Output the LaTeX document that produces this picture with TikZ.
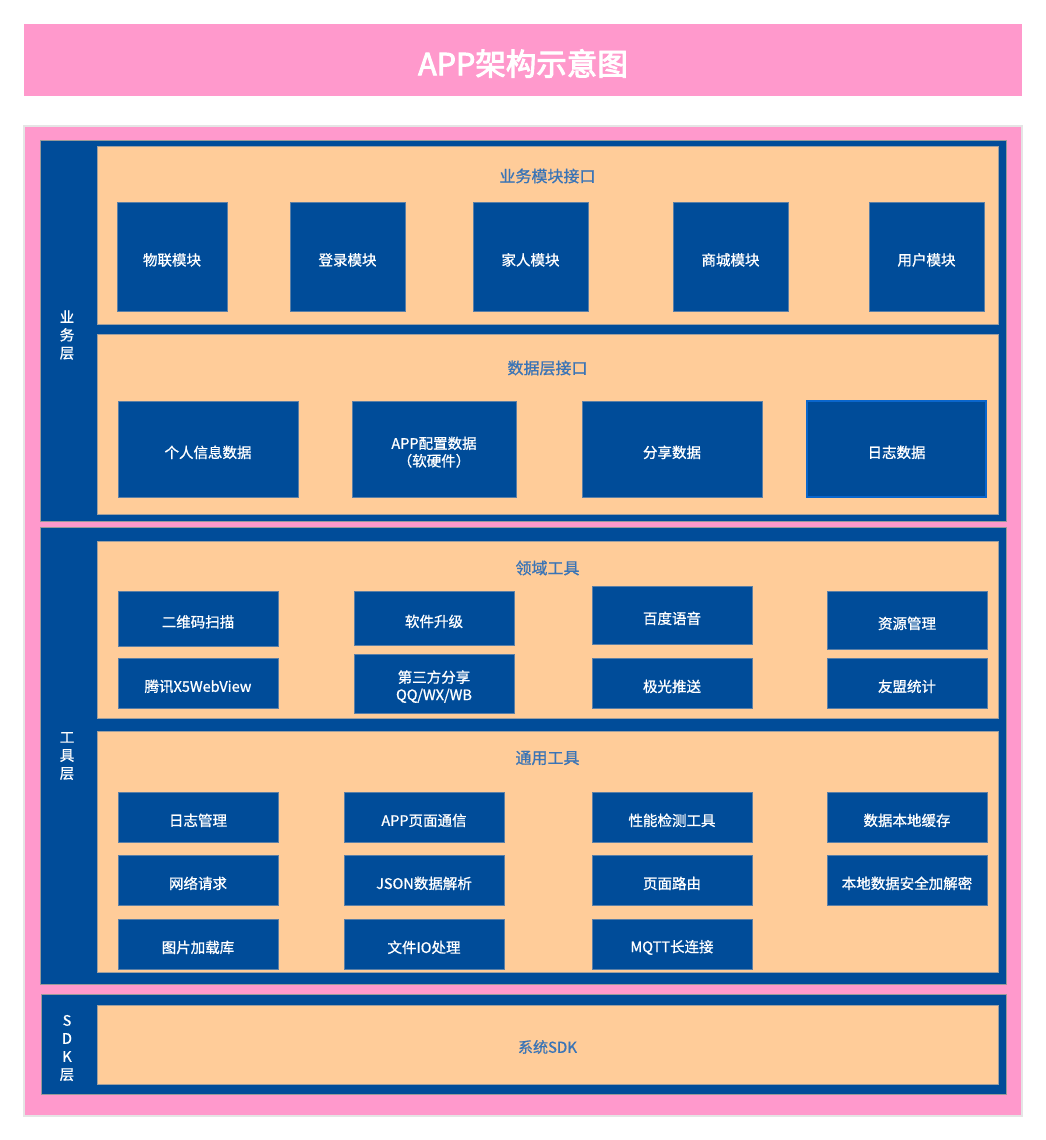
\documentclass[tikz,border=0pt]{standalone}
\usepackage{fontspec}
\newfontfamily\cjk{Noto Sans CJK SC}[FakeBold=0.9]
\newfontfamily\cjkhead{Noto Sans CJK SC}[FakeBold=3]
\definecolor{deepblue}{HTML}{004C99}
\definecolor{edgeblue}{HTML}{5B7FA6}
\definecolor{peach}{HTML}{FFCC99}
\definecolor{pinkbg}{HTML}{FF99CC}
\definecolor{headblue}{HTML}{3A74B6}
\definecolor{brightblue}{HTML}{0A66CC}
\begin{document}
\begin{tikzpicture}[x=1pt, y=-1pt]
	\tikzset{box/.style={rectangle, inner sep=0pt, outer sep=0pt}};
	\tikzset{sz/.style 2 args={minimum width=#1pt, minimum height=#2pt}};
	\tikzset{layer/.style={box, fill=deepblue, draw=gray!80, line width=0.8pt}};
	\tikzset{panel/.style={box, fill=peach, draw=gray!75, line width=1pt}};
	\tikzset{mod/.style={box, fill=deepblue, draw=edgeblue, line width=0.8pt, text=white, align=center, text height=19pt, font=\cjk\fontsize{14.5}{17.5}\selectfont}};
	\tikzset{twoline/.style={text height=36pt}};
	\tikzset{head/.style={text=headblue, font=\cjk\fontsize{16}{19}\selectfont}};
	\tikzset{lbl/.style={text=white, align=center, font=\cjk\fontsize{14.5}{18}\selectfont}};

	\fill[white] (0,0) rectangle (1046,1140);
	\useasboundingbox (0,0) rectangle (1046,1140);

	% title and frame
	\node[box, fill=pinkbg, sz={998}{72}, text=white, text height=33pt, font=\cjkhead\fontsize{30.5}{35}\selectfont] (title) at (523,60) {APP架构示意图};
	\node[box, fill=pinkbg, draw=gray!20, line width=1.5pt, sz={998}{990}] (frame) at (523,621) {};

	% business layer
	\node[layer, sz={966}{381}] (biz) at (523,330.5) {};
	\node[lbl] (bizlbl) at (67,335) {业\\务\\层};

	\node[panel, sz={901}{178}] (bizif) at (547.5,235) {};
	\node[head] (bizifhead) at (547.5,176) {业务模块接口};
	\node[mod, sz={110}{109}] (iot) at (172,256.5) {物联模块};
	\node[mod, sz={115}{109}] (login) at (347.5,256.5) {登录模块};
	\node[mod, sz={115}{109}] (family) at (530.5,256.5) {家人模块};
	\node[mod, sz={115}{109}] (mall) at (730.5,256.5) {商城模块};
	\node[mod, sz={115}{109}] (user) at (926.5,256.5) {用户模块};

	\node[panel, sz={901}{180}] (dataif) at (547.5,424) {};
	\node[head] (dataifhead) at (547.5,368) {数据层接口};
	\node[mod, sz={180}{96}] (info) at (208,449) {个人信息数据};
	\node[mod, twoline, sz={164}{96}] (config) at (434,449) {APP配置数据\\（软硬件）};
	\node[mod, sz={180}{96}] (share) at (672,449) {分享数据};
	\node[mod, sz={179}{96}, draw=brightblue, line width=2pt] (logdata) at (896.5,449) {日志数据};

	% tool layer
	\node[layer, sz={966}{457}] (tool) at (523,755.5) {};
	\node[lbl] (toollbl) at (67,756) {工\\具\\层};

	\node[panel, sz={901}{177}] (domain) at (547.5,629.5) {};
	\node[head] (domainhead) at (547.5,568) {领域工具};
	\node[mod, sz={160}{55}] (qr) at (198,618.5) {二维码扫描};
	\node[mod, sz={160}{50}] (x5) at (198,683) {腾讯X5WebView};
	\node[mod, sz={160}{54}] (upgrade) at (434,618) {软件升级};
	\node[mod, twoline, sz={160}{59}] (social) at (434,683.5) {第三方分享\\QQ/WX/WB};
	\node[mod, sz={160}{58}] (voice) at (672,615) {百度语音};
	\node[mod, sz={160}{50}] (push) at (672,683) {极光推送};
	\node[mod, sz={160}{58}] (res) at (907,620) {资源管理};
	\node[mod, sz={160}{50}] (stat) at (907,683) {友盟统计};

	\node[panel, sz={901}{241}] (common) at (547.5,851.5) {};
	\node[head] (commonhead) at (547.5,758) {通用工具};
	\node[mod, sz={160}{50}] (logmgr) at (198,817) {日志管理};
	\node[mod, sz={160}{50}] (pagemsg) at (424,817) {APP页面通信};
	\node[mod, sz={160}{50}] (perf) at (672,817) {性能检测工具};
	\node[mod, sz={160}{50}] (cache) at (907,817) {数据本地缓存};
	\node[mod, sz={160}{50}] (net) at (198,880) {网络请求};
	\node[mod, sz={160}{50}] (json) at (424,880) {JSON数据解析};
	\node[mod, sz={160}{50}] (route) at (672,880) {页面路由};
	\node[mod, sz={160}{50}] (crypt) at (907,880) {本地数据安全加解密};
	\node[mod, sz={160}{50}] (img) at (198,944) {图片加载库};
	\node[mod, sz={160}{50}] (fileio) at (424,944) {文件IO处理};
	\node[mod, sz={160}{50}] (mqtt) at (672,944) {MQTT长连接};

	% sdk layer
	\node[layer, sz={965}{100}] (sdk) at (523.5,1044) {};
	\node[lbl] (sdklbl) at (67,1048) {S\\D\\K\\层};
	\node[panel, sz={901}{79}] (sys) at (547.5,1044.5) {};
	\node[head, font=\cjk\fontsize{15}{18}\selectfont] (syshead) at (547.5,1047) {系统SDK};
\end{tikzpicture}
\end{document}
